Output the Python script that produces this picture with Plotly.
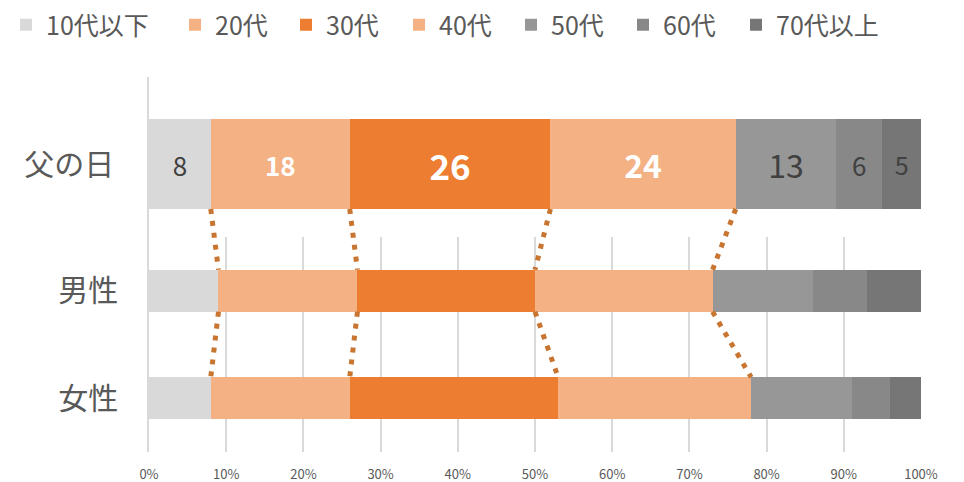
import numpy as np
import plotly.graph_objects as go

# ---------------- data ----------------
categories_top = ["父の日"]
categories_bottom = ["男性", "女性"]
age_groups = ["10代以下", "20代", "30代", "40代", "50代", "60代", "70代以上"]
fathers_day = [8, 18, 26, 24, 13, 6, 5]
male = [9, 18, 23, 23, 13, 7, 7]
female = [8, 18, 27, 25, 13, 5, 4]
x_tick_vals = [0, 10, 20, 30, 40, 50, 60, 70, 80, 90, 100]
x_tick_labels = ["0%", "10%", "20%", "30%", "40%", "50%", "60%", "70%", "80%", "90%", "100%"]

# ---------------- styles ----------------
colors = ["#D9D9D9", "#F4B183", "#ED7D31", "#F4B183", "#979797", "#888888", "#767676"]
label_colors = ["#404040", "#FFFFFF", "#FFFFFF", "#FFFFFF", "#404040", "#404040", "#404040"]
label_sizes = [26, 26, 35, 32, 32, 26, 25]
label_bold = [False, True, True, True, False, False, False]
legend_widths = [124, 66, 68, 67, 67, 68, 124]
FONT = "Noto Sans CJK JP"
GRAY_TEXT = "#595959"
GRID = "#D9D9D9"
DOT = "#C77530"

# page body has an 8px margin -> figure is 956x474 so it fits the 964x482 window
W, H = 956, 474
ML, MR, MT, MB = 141, 43, 69, 30
PW = W - ML - MR
PH = H - MT - MB  # plot height in px

# subplot geometry (px)
top_band = 174          # px of the top category band
bottom_band = 215       # px of the bottom subplot
top_bar_px = 90
bottom_bar_px = 42

top_dom = [1 - top_band / PH, 1.0]
bot_dom = [0.0, bottom_band / PH]
top_w = top_bar_px / top_band
bot_w = bottom_bar_px / (bottom_band / 2)

fig = go.Figure()

for i, grp in enumerate(age_groups):
    txt = str(fathers_day[i])
    if label_bold[i]:
        txt = "<b>" + txt + "</b>"
    fig.add_trace(go.Bar(
        x=[fathers_day[i]], y=categories_top, orientation="h",
        xaxis="x2", yaxis="y2", width=top_w,
        marker=dict(color=colors[i], line=dict(width=0)),
        name=grp, legendgroup=grp, showlegend=True,
        legendwidth=legend_widths[i],
        text=[txt], textposition="inside", insidetextanchor="middle",
        textangle=0, constraintext="none",
        textfont=dict(family=FONT, size=label_sizes[i], color=label_colors[i]),
        hoverinfo="x+name",
    ))
    fig.add_trace(go.Bar(
        x=[male[i], female[i]], y=categories_bottom, orientation="h",
        xaxis="x", yaxis="y", width=bot_w,
        marker=dict(color=colors[i], line=dict(width=0)),
        name=grp, legendgroup=grp, showlegend=False,
        hoverinfo="x+name",
    ))

# ---- dotted connector lines (paper y computed from geometry) ----
def top_bar_bottom_paper():
    frac = 0.5 - top_w / 2  # reversed range [0.5,-0.5]
    return top_dom[0] + (top_dom[1] - top_dom[0]) * frac

def bottom_edge_paper(idx, edge):
    # range [1.5, -0.5] reversed; edge: -1 top, +1 bottom
    v = idx + edge * bot_w / 2
    frac = (v - 1.5) / (-0.5 - 1.5)
    return bot_dom[0] + (bot_dom[1] - bot_dom[0]) * frac

cum_top = np.cumsum(fathers_day)
cum_male = np.cumsum(male)
cum_female = np.cumsum(female)
shapes = []
for k in range(4):
    shapes.append(dict(type="line", xref="x", yref="paper",
                       x0=float(cum_top[k]), y0=top_bar_bottom_paper(),
                       x1=float(cum_male[k]), y1=bottom_edge_paper(0, -1),
                       line=dict(color=DOT, width=5, dash="5px,7px")))
    shapes.append(dict(type="line", xref="x", yref="paper",
                       x0=float(cum_male[k]), y0=bottom_edge_paper(0, 1),
                       x1=float(cum_female[k]), y1=bottom_edge_paper(1, -1),
                       line=dict(color=DOT, width=5, dash="5px,7px")))

fig.update_layout(
    width=W, height=H,
    margin=dict(l=ML, r=MR, t=MT, b=MB, pad=0, autoexpand=False),
    barmode="stack",
    paper_bgcolor="white", plot_bgcolor="rgba(0,0,0,0)",
    font=dict(family=FONT, color=GRAY_TEXT),
    shapes=shapes,
    legend=dict(orientation="h", xref="paper", yref="paper",
                x=-(ML + 2) / PW, y=1 + (MT - 17) / PH,
                xanchor="left", yanchor="middle",
                font=dict(family=FONT, size=25, color=GRAY_TEXT),
                traceorder="normal", itemclick=False, itemdoubleclick=False,
                bgcolor="rgba(0,0,0,0)"),
    xaxis=dict(domain=[0, 1], anchor="y", range=[0, 100],
               tickvals=x_tick_vals, ticktext=x_tick_labels,
               showgrid=True, gridcolor=GRID, gridwidth=1.5,
               zeroline=False, showline=False, ticks="",
               tickfont=dict(family=FONT, size=13, color=GRAY_TEXT),
               ticklabelstandoff=13, fixedrange=True),
    xaxis2=dict(domain=[0, 1], anchor="y2", range=[0, 100], matches="x",
                showgrid=False, zeroline=False, showline=False,
                showticklabels=False, ticks="", fixedrange=True),
    yaxis=dict(domain=bot_dom, anchor="x", type="category",
               categoryarray=categories_bottom, range=[1.5, -0.5],
               showgrid=False, zeroline=False,
               showline=True, linecolor=GRID, linewidth=1.5, ticks="",
               tickfont=dict(family=FONT, size=30, color=GRAY_TEXT),
               ticklabelstandoff=23, fixedrange=True),
    yaxis2=dict(domain=top_dom, anchor="x2", type="category",
                categoryarray=categories_top, range=[0.5, -0.5],
                showgrid=False, zeroline=False,
                showline=True, linecolor=GRID, linewidth=1.5, ticks="",
                tickfont=dict(family=FONT, size=30, color=GRAY_TEXT),
                ticklabelstandoff=27, fixedrange=True),
)

fig.write_html("out.html")
